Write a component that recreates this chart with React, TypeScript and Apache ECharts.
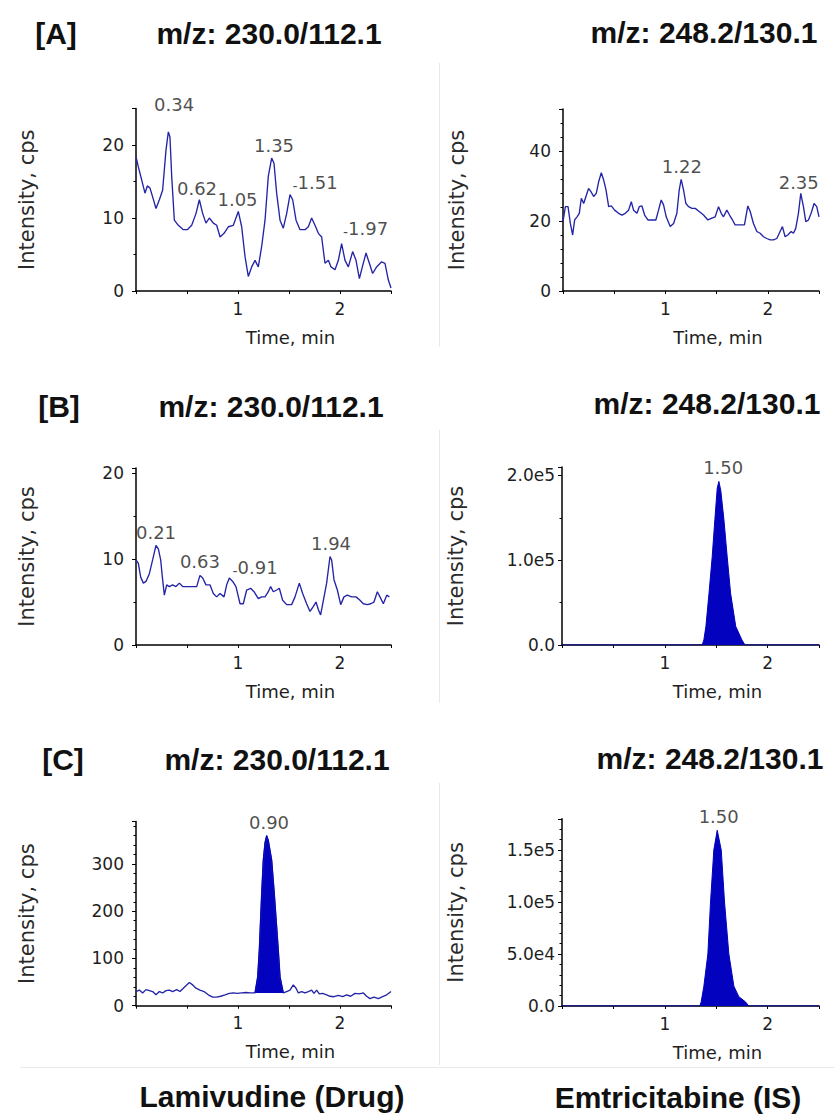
import React, { useEffect, useRef } from 'react';
import * as echarts from 'echarts';

// ---------------- DATA ----------------
// [A] blank plasma, Lamivudine channel (m/z 230.0/112.1)
const timeA1 = [0,0.023,0.056,0.088,0.111,0.137,0.163,0.196,0.229,0.261,0.294,0.317,0.333,0.350,0.376,0.415,0.464,0.503,0.546,0.588,0.621,0.654,0.686,0.719,0.758,0.791,0.824,0.863,0.905,0.954,1.003,1.036,1.069,1.101,1.134,1.167,1.199,1.232,1.265,1.297,1.330,1.353,1.379,1.412,1.444,1.477,1.510,1.536,1.569,1.608,1.657,1.690,1.722,1.755,1.788,1.820,1.853,1.886,1.912,1.951,1.984,2.016,2.049,2.082,2.124,2.157,2.190,2.219,2.255,2.288,2.320,2.359,2.408,2.441,2.474,2.5];
const intensA1 = [18.4,17,15.2,13.4,14.4,14.1,12.9,11.3,12.5,13.8,19.3,21.8,21.1,15.7,9.7,9.0,8.4,8.4,9.0,10.6,12.5,10.6,9.3,10.0,9.3,9.0,7.4,7.9,8.8,9.0,10.9,8.8,4.7,2.0,3.3,4.2,3.3,6.1,9.7,15.7,18.2,17.5,13.4,9.7,8.6,10.6,13.2,12.5,9.7,8.4,8.4,8.8,10.0,9.0,7.9,7.4,3.8,4.2,3.3,2.9,4.2,6.5,4.2,3.3,5.4,4.2,1.7,3.3,5.2,3.8,2.4,3.3,4.0,3.8,1.5,0.4];
const labelsA1: [number, number, string, number][] = [[0.373,25.5,'0.34',0],[0.598,14.1,'0.62',0],[0.995,12.6,'1.05',0],[1.353,20.0,'1.35',0],[1.755,14.8,'1.51',1],[2.25,8.5,'1.97',1]];

// [A] blank plasma, Emtricitabine channel (m/z 248.2/130.1)
const timeA2 = [0,0.023,0.049,0.072,0.094,0.114,0.137,0.159,0.179,0.202,0.224,0.250,0.273,0.299,0.325,0.348,0.374,0.397,0.420,0.446,0.472,0.504,0.543,0.576,0.608,0.641,0.667,0.689,0.722,0.745,0.771,0.797,0.829,0.868,0.907,0.933,0.959,0.982,1.008,1.047,1.080,1.112,1.135,1.154,1.177,1.200,1.226,1.259,1.291,1.330,1.372,1.415,1.454,1.486,1.519,1.545,1.567,1.600,1.626,1.655,1.681,1.730,1.772,1.805,1.828,1.860,1.893,1.925,1.958,1.990,2.023,2.055,2.088,2.120,2.143,2.169,2.195,2.228,2.250,2.273,2.299,2.322,2.348,2.371,2.397,2.423,2.452,2.478,2.5];
const intensA2 = [19.8,24.1,24.1,19.3,16.0,20.3,21.2,22.2,26.5,25.0,27.0,29.3,28.4,27.0,27.9,31.2,33.8,31.7,28.9,24.1,24.3,23.1,22.2,21.7,22.2,23.1,25.5,23.1,22.2,24.1,24.3,21.7,20.3,20.3,20.3,23.1,26.0,24.6,21.2,18.4,19.3,22.2,28.9,31.9,28.9,25.0,24.1,23.6,23.6,22.7,21.7,20.3,20.8,21.2,24.1,22.2,21.2,23.1,21.7,20.3,18.9,18.9,18.9,24.3,22.7,19.3,17.0,16.5,15.5,15.0,14.6,14.6,15.0,17.0,18.4,15.5,16.0,17.0,16.5,17.9,22.2,27.9,24.1,19.8,20.3,22.2,25.0,24.1,21.2];
const labelsA2: [number, number, string, number][] = [[1.161,35.7,'1.22',0],[2.302,31.1,'2.35',0]];

// [B] Lamivudine channel
const timeB1 = [0,0.023,0.046,0.072,0.098,0.131,0.163,0.196,0.219,0.242,0.261,0.278,0.301,0.327,0.359,0.392,0.425,0.458,0.497,0.546,0.595,0.627,0.654,0.686,0.725,0.758,0.791,0.824,0.863,0.889,0.915,0.948,0.980,1.020,1.052,1.085,1.124,1.157,1.199,1.232,1.265,1.297,1.320,1.346,1.379,1.405,1.438,1.477,1.526,1.559,1.601,1.634,1.673,1.706,1.739,1.765,1.788,1.810,1.837,1.869,1.902,1.918,1.941,1.974,2.007,2.039,2.072,2.114,2.157,2.196,2.229,2.268,2.301,2.333,2.366,2.392,2.425,2.458,2.484];
const intensB1 = [9.9,9.5,7.9,7.2,7.4,8.3,9.9,11.6,11.2,9.9,7.6,5.8,7.0,6.8,7.0,6.8,7.2,6.8,6.8,6.8,6.8,8.1,7.8,7.0,7.0,6.0,5.6,6.0,5.6,7.0,7.8,7.4,6.8,4.8,4.8,6.4,6.6,6.2,5.4,5.6,5.6,6.2,6.8,6.2,6.4,6.6,5.2,4.7,4.7,5.6,7.2,6.0,4.8,3.9,4.5,5.0,4.1,3.5,5.2,7.2,10.3,9.9,7.6,6.4,4.7,5.6,5.8,5.6,5.6,5.2,4.8,4.7,4.8,5.0,6.2,5.6,4.8,5.8,5.6];
const labelsB1: [number, number, string, number][] = [[0.196,13.06,'0.21',0],[0.627,9.77,'0.63',0],[1.167,9.07,'0.91',1],[1.912,11.86,'1.94',0]];

// [B] Emtricitabine channel
const timeB2 = [0,1.30,1.364,1.38,1.40,1.43,1.461,1.487,1.51,1.526,1.545,1.575,1.607,1.64,1.69,1.75,1.78,1.85,2.5];
const intensB2 = [0,0,0,6000,22000,61000,104000,148000,185000,193000,182000,148000,104000,61000,22000,6000,0,0,0];
const labelsB2: [number, number, string, number][] = [[1.568,209900,'1.50',0]];

// [C] Lamivudine channel
const timeC1 = [0,0.033,0.065,0.098,0.131,0.163,0.196,0.229,0.261,0.294,0.327,0.359,0.399,0.431,0.464,0.497,0.523,0.556,0.588,0.627,0.667,0.709,0.752,0.791,0.830,0.873,0.915,0.954,0.993,1.036,1.078,1.118,1.157,1.167,1.193,1.209,1.232,1.248,1.265,1.281,1.297,1.330,1.356,1.395,1.412,1.444,1.477,1.510,1.542,1.569,1.592,1.624,1.657,1.690,1.722,1.745,1.771,1.797,1.830,1.869,1.902,1.941,1.984,2.026,2.065,2.105,2.147,2.190,2.229,2.261,2.294,2.333,2.376,2.418,2.458,2.5];
const intensC1 = [30,33,27,34,32,30,23,30,27,32,33,30,34,30,37,44,49,44,37,33,30,23,18,18,20,23,26,27,26,27,28,27,27,27,61,118,237,308,345,360,350,308,237,118,61,27,30,33,44,37,27,30,27,30,33,26,33,25,26,23,20,19,22,19,23,20,26,25,27,20,15,18,15,19,23,30];
const peakWindowC1 = [1.167, 1.444];
const peakBaselineC1 = 27;
const labelsC1: [number, number, string, number][] = [[1.304,387.5,'0.90',0]];

// [C] Emtricitabine channel
const timeC2 = [0,1.30,1.342,1.354,1.38,1.419,1.445,1.477,1.51,1.549,1.581,1.623,1.672,1.72,1.784,1.817,1.85,2.5];
const intensC2 = [0,0,0,4000,19000,50000,100000,150000,169000,150000,100000,50000,19000,9000,4000,0,0,0];
const labelsC2: [number, number, string, number][] = [[1.524,182000,'1.50',0]];

const rowTags = ['[A]', '[B]', '[C]'];
const drugTitle = 'm/z: 230.0/112.1';
const isTitle = 'm/z: 248.2/130.1';
const bottomLabels = ['Lamivudine (Drug)', 'Emtricitabine (IS)'];
const xAxisName = 'Time, min';
const yAxisName = 'Intensity, cps';
const xLabelled = [1, 2];

// ---------------- HELPERS ----------------
const zip = (t: number[], v: number[]) => {
  const n = Math.min(t.length, v.length);
  const out: number[][] = [];
  for (let i = 0; i < n; i++) out.push([t[i], v[i]]);
  return out;
};
const isMult = (v: number, step: number) => Math.abs(v / step - Math.round(v / step)) < 1e-6;

const TRACE = '#2424a8';
const FILL = '#0202bf';
const AXIS_FONT = 'DejaVu Sans';
const TITLE_FONT = 'Liberation Sans';

type Panel = {
  grid: { left: number; top: number; width: number; height: number };
  yMax: number; yStep: number; yMinor: number; sci: boolean;
  series: any[];
  labels: [number, number, string, number][];
};

function tracePanel(t: number[], v: number[]) {
  return [{ type: 'line', data: zip(t, v), symbol: 'none', lineStyle: { color: TRACE, width: 1.35 } }];
}
function filledPeak(t: number[], v: number[]) {
  return [{
    type: 'line', data: zip(t, v), symbol: 'none',
    lineStyle: { color: FILL, width: 1 },
    areaStyle: { color: FILL, opacity: 1 },
  }];
}

const panels: Panel[] = [
  { grid: { left: 136, top: 108.5, width: 255, height: 182.5 }, yMax: 25, yStep: 10, yMinor: 2, sci: false,
    series: tracePanel(timeA1, intensA1), labels: labelsA1 },
  { grid: { left: 563, top: 109, width: 256, height: 182 }, yMax: 52, yStep: 20, yMinor: 5, sci: false,
    series: tracePanel(timeA2, intensA2), labels: labelsA2 },
  { grid: { left: 136, top: 468, width: 255, height: 177 }, yMax: 20.6, yStep: 10, yMinor: 2, sci: false,
    series: tracePanel(timeB1, intensB1), labels: labelsB1 },
  { grid: { left: 562, top: 467, width: 257, height: 178 }, yMax: 210000, yStep: 100000, yMinor: 2, sci: true,
    series: filledPeak(timeB2, intensB2), labels: labelsB2 },
  { grid: { left: 136, top: 821.5, width: 255, height: 184.2 }, yMax: 390, yStep: 100, yMinor: 5, sci: false,
    series: [
      ...tracePanel(timeC1, intensC1),
      {
        type: 'line',
        data: zip(timeC1, intensC1).filter((p) => p[0] >= peakWindowC1[0] && p[0] <= peakWindowC1[1]),
        symbol: 'none',
        lineStyle: { color: FILL, width: 1 },
        areaStyle: { color: FILL, opacity: 1, origin: peakBaselineC1 },
      },
    ], labels: labelsC1 },
  { grid: { left: 562, top: 818.8, width: 257, height: 187.2 }, yMax: 180000, yStep: 50000, yMinor: 5, sci: true,
    series: filledPeak(timeC2, intensC2), labels: labelsC2 },
];

function buildOption() {
  const grid: any[] = [];
  const xAxis: any[] = [];
  const yAxis: any[] = [];
  const series: any[] = [];
  panels.forEach((p, i) => {
    const isLeft = i % 2 === 0;
    grid.push({ ...p.grid, containLabel: false });
    xAxis.push({
      type: 'value', gridIndex: i, min: 0, max: 2.5, interval: 0.5,
      splitLine: { show: false },
      axisLine: { show: true, onZero: false, lineStyle: { color: '#000', width: 1.5 } },
      axisTick: { show: true, length: 3, lineStyle: { color: '#000', width: 1 } },
      axisLabel: {
        margin: 9, color: '#1e1e1e', fontFamily: AXIS_FONT, fontSize: 17,
        formatter: (v: number) => (xLabelled.some((k) => Math.abs(k - v) < 1e-9) ? String(Math.round(v)) : ''),
      },
      name: xAxisName, nameLocation: 'middle', nameGap: 37,
      nameTextStyle: { color: '#1e1e1e', fontFamily: AXIS_FONT, fontSize: 18, padding: [0, 0, 0, 54] },
    });
    yAxis.push({
      type: 'value', gridIndex: i, min: 0, max: p.yMax, interval: p.yStep,
      splitLine: { show: false },
      axisLine: { show: true, lineStyle: { color: '#000', width: 1.5 } },
      axisTick: { show: true, length: 4, lineStyle: { color: '#000', width: 1 } },
      minorTick: { show: true, splitNumber: p.yMinor, length: 2.5, lineStyle: { color: '#000', width: 1 } },
      axisLabel: {
        margin: p.sci ? 7 : 12, color: '#1e1e1e', fontFamily: AXIS_FONT, fontSize: 17,
        formatter: (v: number) => {
          if (!isMult(v, p.yStep)) return '';
          if (!p.sci) return String(v);
          return v === 0 ? '0.0' : v.toExponential(1).replace('e+', 'e');
        },
      },
      name: yAxisName, nameLocation: 'middle', nameGap: isLeft ? 99 : 96, nameRotate: 90,
      nameTextStyle: { color: '#2a2a2a', fontFamily: AXIS_FONT, fontSize: 21 },
    });
    p.series.forEach((s) => series.push({ ...s, xAxisIndex: i, yAxisIndex: i, silent: true, animation: false }));
    series.push({
      type: 'scatter', xAxisIndex: i, yAxisIndex: i, silent: true, clip: false,
      symbolSize: 1, itemStyle: { color: 'rgba(0,0,0,0)' },
      data: p.labels.map((l) => ({ value: [l[0], l[1]], name: l[2], leader: l[3] })),
      label: {
        show: true, position: 'inside', color: '#1e1e1e', fontFamily: AXIS_FONT, fontSize: 18,
        formatter: (d: any) => (d.data.leader ? '{l|-}' + d.data.name : d.data.name),
        rich: { l: { fontSize: 14, color: '#1e1e1e', fontFamily: AXIS_FONT, padding: [7, 0, 0, 0] } },
      },
    });
  });

  const titleStyle = (text: string) => ({
    text, fontFamily: TITLE_FONT, fontWeight: 'bold', fontSize: 30, fill: '#111',
    align: 'center', verticalAlign: 'middle', textAlign: 'center', textVerticalAlign: 'middle',
  });
  const rowY = [[33, 32], [406, 403], [759, 758]];
  const tagX = [56, 59, 63];
  const drugX = [269, 271, 277];
  const isX = [704, 707, 710];
  const graphic: any[] = [];
  rowTags.forEach((tag, r) => {
    graphic.push({ type: 'text', x: tagX[r], y: rowY[r][0], silent: true, style: titleStyle(tag) });
    graphic.push({ type: 'text', x: drugX[r], y: rowY[r][0], silent: true, style: titleStyle(drugTitle) });
    graphic.push({ type: 'text', x: isX[r], y: rowY[r][1], silent: true, style: titleStyle(isTitle) });
  });
  graphic.push({ type: 'text', x: 272, y: 1096, silent: true, style: titleStyle(bottomLabels[0]) });
  graphic.push({ type: 'text', x: 678, y: 1097, silent: true, style: titleStyle(bottomLabels[1]) });
  const faint = { stroke: '#e9e9e9', lineWidth: 1 };
  [[63, 347], [430, 703], [783, 1065]].forEach(([y1, y2]) =>
    graphic.push({ type: 'line', silent: true, shape: { x1: 439.5, y1, x2: 439.5, y2 }, style: faint }));
  graphic.push({ type: 'line', silent: true, shape: { x1: 20, y1: 1067.5, x2: 834, y2: 1067.5 }, style: faint });

  return { animation: false, backgroundColor: '#ffffff', grid, xAxis, yAxis, series, graphic };
}

export default function App() {
  const ref = useRef<HTMLDivElement>(null);
  useEffect(() => {
    if (!ref.current) return;
    const chart = echarts.init(ref.current, undefined, { renderer: 'svg' });
    chart.setOption(buildOption() as any);
    return () => chart.dispose();
  }, []);
  return (
    <div
      ref={ref}
      style={{ position: 'absolute', left: 0, top: 0, width: 834, height: 1116, background: '#fff' }}
    />
  );
}
